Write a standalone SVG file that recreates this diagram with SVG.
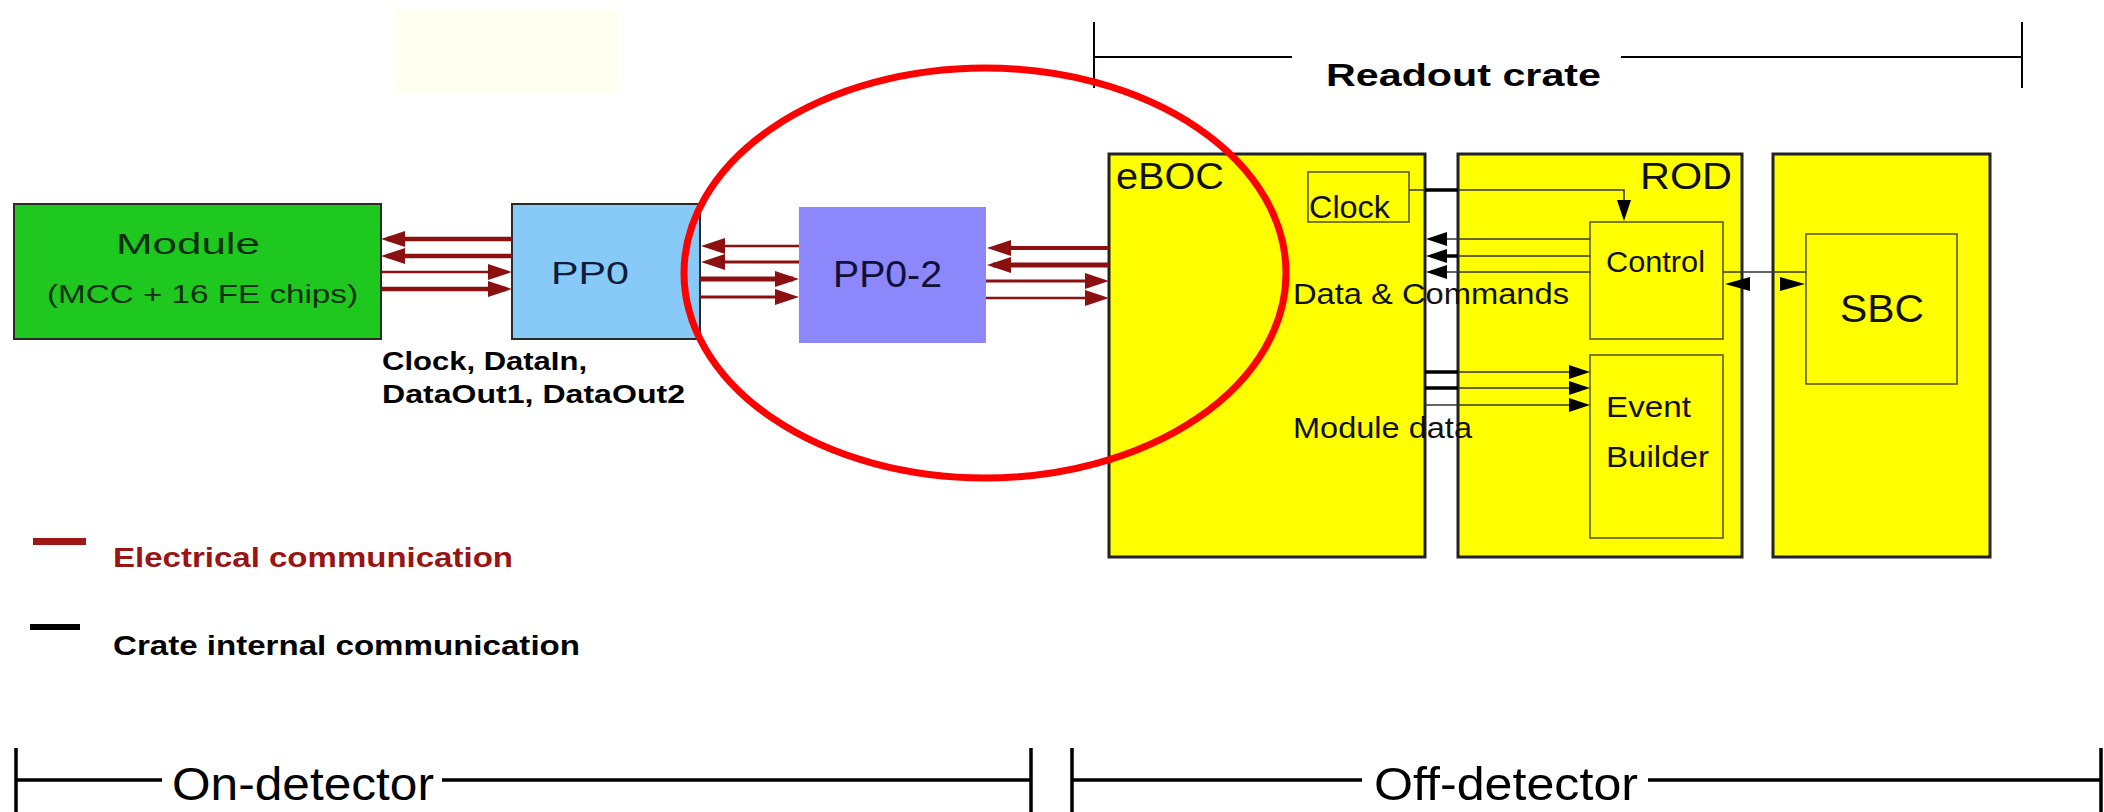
<svg xmlns="http://www.w3.org/2000/svg" width="2104" height="812" viewBox="0 0 2104 812">
<defs>
<style>
text{font-family:"Liberation Sans",Arial,sans-serif;}
.box{stroke:#2a2a2a;stroke-width:2;}
.crate{fill:#ffff00;stroke:#222;stroke-width:3;}
.inner{fill:none;stroke:#5c5c10;stroke-width:1.6;}
.el{stroke:#8b1111;fill:none;}
.bl{stroke:#333;stroke-width:1.5;fill:none;}
.gap{stroke:#000;stroke-width:3.5;fill:none;}
.bh{fill:#000;}
.bold{font-weight:bold;}
.brk{stroke:#000;stroke-width:2;fill:none;}
.brkb{stroke:#000;stroke-width:3.5;fill:none;}
</style>
<marker id="rh" viewBox="0 0 24 16" refX="18" refY="8" markerWidth="24" markerHeight="16" markerUnits="userSpaceOnUse" orient="auto">
<path d="M0,0 L24,8 L0,16 z" fill="#8b1111"/>
</marker>
<marker id="kh" viewBox="0 0 21 14" refX="15" refY="7" markerWidth="21" markerHeight="14" markerUnits="userSpaceOnUse" orient="auto">
<path d="M0,0 L21,7 L0,14 z" fill="#000"/>
</marker>
</defs>
<rect width="2104" height="812" fill="#ffffff"/>
<rect x="395" y="10" width="222" height="83" fill="#fffff0"/>

<g id="module">
<rect class="box" x="14" y="204" width="367" height="135" fill="#1fc81f"/>
<text x="116" y="254" font-size="29" fill="#0b300b" textLength="144" lengthAdjust="spacingAndGlyphs">Module</text>
<text x="47" y="303" font-size="25" fill="#0b300b" textLength="311" lengthAdjust="spacingAndGlyphs">(MCC + 16 FE chips)</text>
</g>

<g id="pp0">
<rect class="box" x="512" y="204" width="188" height="135" fill="#87c9f7"/>
<text x="551" y="284" font-size="31" fill="#101c3a" textLength="78" lengthAdjust="spacingAndGlyphs">PP0</text>
</g>

<g id="pp0-label">
<text class="bold" x="382" y="370" font-size="26" fill="#000" textLength="205" lengthAdjust="spacingAndGlyphs">Clock, DataIn,</text>
<text class="bold" x="382" y="403" font-size="26" fill="#000" textLength="303" lengthAdjust="spacingAndGlyphs">DataOut1, DataOut2</text>
</g>

<g id="pp0-2">
<rect x="799" y="207" width="187" height="136" fill="#8c87fa"/>
<text x="833" y="287" font-size="37" fill="#10103a" textLength="109" lengthAdjust="spacingAndGlyphs">PP0-2</text>
</g>

<g id="readout-crate-bracket">
<path class="brk" d="M1094,22 V88 M2022,22 V88 M1094,57 H1292 M1621,57 H2022"/>
<text class="bold" x="1326" y="86" font-size="31" fill="#000" textLength="275" lengthAdjust="spacingAndGlyphs">Readout crate</text>
</g>

<g id="rod">
<rect class="crate" x="1458" y="154" width="284" height="403"/>
<text x="1640" y="189" font-size="36" fill="#111" textLength="92" lengthAdjust="spacingAndGlyphs">ROD</text>
</g>

<g id="control">
<rect class="inner" x="1590" y="222" width="133" height="117"/>
<text x="1606" y="272" font-size="30" fill="#111" textLength="99" lengthAdjust="spacingAndGlyphs">Control</text>
</g>

<g id="event-builder">
<rect class="inner" x="1590" y="355" width="133" height="183"/>
<text x="1606" y="417" font-size="30" fill="#111" textLength="85" lengthAdjust="spacingAndGlyphs">Event</text>
<text x="1606" y="467" font-size="30" fill="#111" textLength="103" lengthAdjust="spacingAndGlyphs">Builder</text>
</g>

<g id="eboc">
<rect class="crate" x="1109" y="154" width="316" height="403"/>
<text x="1116" y="189" font-size="36" fill="#111" textLength="108" lengthAdjust="spacingAndGlyphs">eBOC</text>
<text x="1293" y="304" font-size="29" fill="#111" textLength="276" lengthAdjust="spacingAndGlyphs">Data &amp; Commands</text>
<text x="1293" y="438" font-size="29" fill="#111" textLength="179" lengthAdjust="spacingAndGlyphs">Module data</text>
</g>

<g id="clock">
<rect class="inner" x="1308" y="172" width="101" height="50"/>
<text x="1309" y="218" font-size="32" fill="#111" textLength="81" lengthAdjust="spacingAndGlyphs">Clock</text>
</g>

<g id="sbc-crate">
<rect class="crate" x="1773" y="154" width="217" height="403"/>
</g>

<g id="sbc">
<rect class="inner" x="1806" y="234" width="151" height="150"/>
<text x="1840" y="322" font-size="39" fill="#111" textLength="84" lengthAdjust="spacingAndGlyphs">SBC</text>
</g>

<g id="connectors">
<line class="el" x1="512" y1="239" x2="387" y2="239" stroke-width="4.5" marker-end="url(#rh)"/>
<line class="el" x1="512" y1="256" x2="387" y2="256" stroke-width="4.5" marker-end="url(#rh)"/>
<line class="el" x1="381" y1="272" x2="506" y2="272" stroke-width="2.5" marker-end="url(#rh)"/>
<line class="el" x1="381" y1="289" x2="506" y2="289" stroke-width="4.5" marker-end="url(#rh)"/>

<line class="el" x1="799" y1="246" x2="707" y2="246" stroke-width="2.5" marker-end="url(#rh)"/>
<line class="el" x1="799" y1="262" x2="707" y2="262" stroke-width="3" marker-end="url(#rh)"/>
<line class="el" x1="700" y1="279" x2="793" y2="279" stroke-width="5" marker-end="url(#rh)"/>
<line class="el" x1="700" y1="297" x2="793" y2="297" stroke-width="3" marker-end="url(#rh)"/>

<line class="el" x1="1109" y1="248" x2="993" y2="248" stroke-width="4" marker-end="url(#rh)"/>
<line class="el" x1="1109" y1="265" x2="993" y2="265" stroke-width="5" marker-end="url(#rh)"/>
<line class="el" x1="986" y1="281" x2="1103" y2="281" stroke-width="3" marker-end="url(#rh)"/>
<line class="el" x1="986" y1="298" x2="1103" y2="298" stroke-width="2.5" marker-end="url(#rh)"/>

<path class="bl" d="M1409,190 H1624 V215" marker-end="url(#kh)"/>
<line class="bl" x1="1590" y1="239" x2="1432" y2="239" marker-end="url(#kh)"/>
<line class="bl" x1="1590" y1="256" x2="1432" y2="256" marker-end="url(#kh)"/>
<line class="bl" x1="1590" y1="272" x2="1432" y2="272" marker-end="url(#kh)"/>
<line class="bl" x1="1425" y1="372" x2="1584" y2="372" marker-end="url(#kh)"/>
<line class="bl" x1="1425" y1="388" x2="1584" y2="388" marker-end="url(#kh)"/>
<line class="bl" x1="1425" y1="405" x2="1584" y2="405" marker-end="url(#kh)"/>
<path class="gap" d="M1425,190 H1458 M1440,256 H1458 M1425,372 H1458 M1425,388 H1458"/>

<line class="bl" x1="1723" y1="272" x2="1806" y2="272"/>
<polygon class="bh" points="1725,284 1750,277 1750,291"/>
<polygon class="bh" points="1805,284 1780,277 1780,291"/>
</g>

<g id="legend">
<rect x="33" y="538" width="53" height="7" fill="#a01515"/>
<text class="bold" x="113" y="567" font-size="27" fill="#9a1414" textLength="400" lengthAdjust="spacingAndGlyphs">Electrical communication</text>
<rect x="30" y="624" width="50" height="6" fill="#000"/>
<text class="bold" x="113" y="655" font-size="27" fill="#000" textLength="467" lengthAdjust="spacingAndGlyphs">Crate internal communication</text>
</g>

<g id="detector-brackets">
<path class="brkb" d="M16,748 V812 M1031,748 V812 M1072,748 V812 M2101,748 V812 M16,780 H162 M442,780 H1031 M1072,780 H1362 M1648,780 H2101"/>
<text x="172" y="800" font-size="46" fill="#000" textLength="262" lengthAdjust="spacingAndGlyphs">On-detector</text>
<text x="1374" y="800" font-size="46" fill="#000" textLength="264" lengthAdjust="spacingAndGlyphs">Off-detector</text>
</g>

<g id="highlight">
<ellipse cx="985" cy="273" rx="301" ry="205" fill="none" stroke="#ff0000" stroke-width="7"/>
</g>
</svg>
